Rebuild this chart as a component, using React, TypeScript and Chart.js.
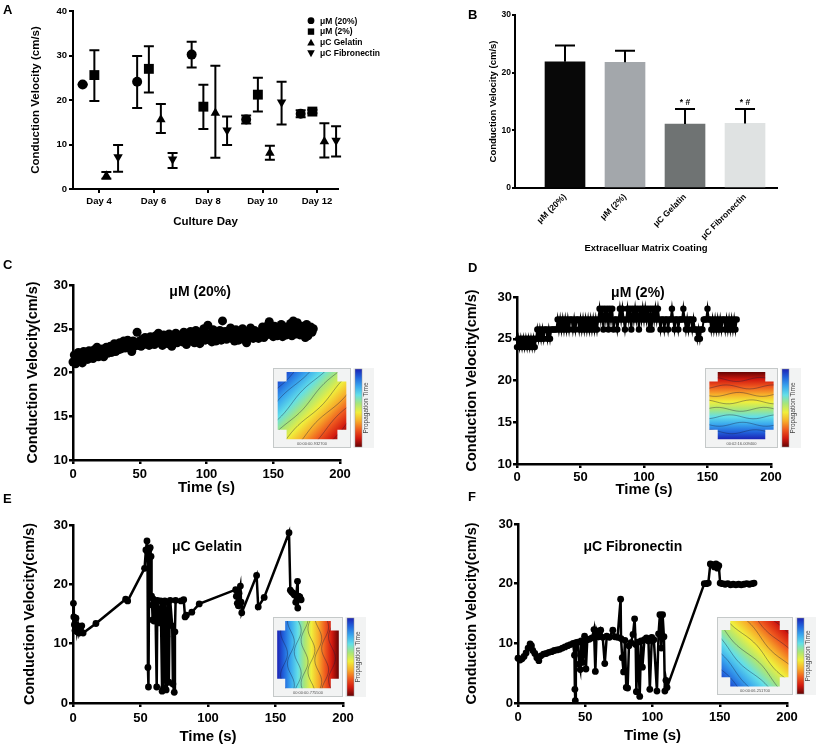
import React, { useEffect, useRef } from 'react';
import { Chart, registerables } from 'chart.js';

Chart.register(...registerables);

const PAGE_W = 817;
const PAGE_H = 747;
const FONT = "'Liberation Sans', Arial, Helvetica, sans-serif";
Chart.defaults.color = '#000';
Chart.defaults.font.family = FONT;

// ---------------- Panel A : conduction velocity per culture day ----------------
const dayTicks = [4, 6, 8, 10, 12];
const dayLabels = ['Day 4', 'Day 6', 'Day 8', 'Day 10', 'Day 12'];
const groupNames = ['μM (20%)', 'μM (2%)', 'μC Gelatin', 'μC Fibronectin'];
const m20Mean = [23.5, 24.1, 30.2, 15.6, 16.9];
const m20Lo = [23.5, 18.2, 27.3, 14.7, 16.1];
const m20Hi = [23.5, 29.9, 33.1, 16.5, 17.7];
const m2Mean = [25.6, 27.0, 18.5, 21.2, 17.4];
const m2Lo = [19.8, 21.7, 13.5, 17.4, 17.0];
const m2Hi = [31.2, 32.1, 23.4, 25.0, 17.8];
const gelMean = [3.0, 15.6, 17.1, 8.1, 10.7];
const gelLo = [2.3, 12.6, 7.0, 6.6, 7.1];
const gelHi = [3.8, 19.1, 27.7, 9.7, 14.8];
const fibMean = [7.2, 6.7, 13.2, 19.5, 10.9];
const fibLo = [3.9, 4.7, 9.9, 14.5, 7.3];
const fibHi = [9.9, 8.1, 16.3, 24.1, 14.1];

// ---------------- Panel B : mean conduction velocity per coating ----------------
const coatingLabels = ['μM (20%)', 'μM (2%)', 'μC Gelatin', 'μC Fibronectin'];
const coatingMean = [21.9, 21.8, 11.1, 11.2];
const coatingErrTop = [24.7, 23.8, 13.7, 13.7];
const coatingMarks = ['', '', '* #', '* #'];

// ---------------- Panel C : μM (20%) trace, one sample per second ----------------
const m20Trace = [
  21.2, 22.0, 21.0, 21.8, 22.3, 21.4, 21.9, 21.1, 22.4, 21.6,
  22.1, 21.5, 22.5, 21.7, 22.2, 21.6, 22.6, 21.9, 22.9, 21.8,
  22.4, 22.0, 22.7, 21.8, 22.5, 22.9, 22.2, 22.6, 23.0, 22.3,
  22.8, 23.3, 22.4, 23.0, 22.6, 23.4, 22.7, 23.1, 23.6, 22.8,
  23.2, 23.7, 22.9, 23.5, 22.4, 23.6, 23.0, 23.3, 24.6, 23.1,
  23.6, 23.0, 23.8, 23.2, 24.0, 23.4, 23.7, 23.1, 24.1, 23.5,
  23.8, 23.2, 24.2, 23.6, 24.5, 23.4, 24.0, 23.1, 24.3, 23.7,
  24.1, 23.3, 24.4, 23.8, 23.0, 24.2, 23.6, 24.5, 23.4, 24.0,
  23.7, 24.3, 23.5, 24.6, 23.8, 23.2, 24.4, 23.9, 24.7, 23.6,
  24.2, 23.4, 24.8, 23.9, 24.3, 23.3, 24.6, 24.0, 25.0, 23.7,
  24.3, 25.4, 23.8, 24.5, 23.5, 24.9, 24.1, 23.6, 24.6, 24.0,
  24.8, 23.7, 25.9, 24.2, 24.7, 23.8, 24.5, 24.0, 25.1, 23.9,
  24.4, 23.6, 24.9, 24.1, 23.7, 24.6, 24.2, 25.0, 23.8, 24.5,
  23.4, 24.7, 24.0, 25.1, 24.3, 23.9, 24.8, 24.1, 24.5, 23.9,
  24.6, 24.2, 25.2, 24.0, 24.7, 24.3, 25.4, 25.8, 24.4, 24.9,
  24.1, 25.3, 24.5, 24.2, 25.0, 24.4, 25.5, 24.1, 24.8, 25.2,
  24.3, 25.0, 24.6, 25.6, 24.2, 25.9, 25.1, 24.4, 25.7, 24.9,
  24.3, 25.3, 24.6, 25.1, 24.0, 25.5, 24.2, 24.8, 25.2, 24.6,
  25.0,
];

// ---------------- Panel D : μM (2%) trace, one sample per second ----------------
const m2Trace = [
  24, 25, 24, 25, 24, 25, 24, 25, 24, 25, 24, 25, 24, 25, 24, 25,
  26.1, 25, 26.1, 25, 26.1, 25, 26.1, 26.1, 25, 26.1, 25, 26.1,
  26.1, 26.1, 26.1, 26.1,
  27.3, 26.1, 27.3, 26.1, 27.3, 26.1, 27.3, 26.1, 27.3, 26.1, 27.3, 27.3, 26.1, 27.3, 26.1, 27.3,
  27.3, 26.1, 27.3, 26.1, 27.3, 26.1, 27.3, 26.1, 27.3, 26.1, 27.3, 26.1, 27.3, 26.1, 27.3, 26.1, 27.3,
  28.6, 27.3, 28.6, 26.1, 28.6, 27.3, 28.6, 26.1, 28.6, 27.3, 28.6, 26.1, 27.3, 27.3, 26.1, 27.3,
  28.6, 27.3, 28.6, 27.3, 26.1, 27.3, 28.6, 27.3, 28.6, 26.1, 28.6, 27.3, 28.6, 27.3, 28.6, 26.1,
  28.6, 27.3, 28.6, 27.3, 28.6, 27.3, 28.6, 26.1, 28.6, 26.1, 28.6, 27.3, 28.6, 27.3, 28.6, 27.3,
  26.1, 27.3, 27.3, 26.1, 27.3, 27.3, 26.1, 27.3, 27.3, 28.6, 27.3, 26.1, 27.3, 27.3, 26.1, 27.3,
  27.3, 27.3, 28.6, 27.3, 26.1, 27.3, 26.1, 27.3, 27.3, 26.1, 27.3,
  26.1, 26.1, 25, 26.1, 25, 26.1, 26.1, 27.3, 27.3, 27.3, 28.6, 27.3, 27.3, 26.1, 27.3, 26.1, 27.3,
  26.1, 27.3, 26.1, 27.3, 26.1, 27.3, 27.3, 26.1, 27.3, 26.1, 27.3, 26.1, 27.3, 26.1, 27.3, 26.1, 27.3,
];
const SAMPLE_SEC = 1;

// ---------------- Panel E : μC Gelatin trace ----------------
const gelTime = [
  0.3, 0.6, 1.0, 1.5, 2.2, 3.0, 3.8, 4.5, 5.5, 6.5,
  7.5, 17, 39, 40.5, 53, 54, 54.8, 55.2, 55.5, 55.9,
  56.5, 57.2, 57.8, 58.2, 58.6, 59, 59.5, 60, 61, 62,
  62.5, 64, 65, 66, 66.5, 67, 67.5, 68, 69, 69.5,
  70, 71, 71.5, 72, 73.5, 74, 75, 75.5, 76, 80,
  82, 83, 84, 88, 93.5, 120.5, 121, 121.7, 122.5, 123,
  124, 124.5, 125, 136, 137.2, 141.6, 160, 161, 162, 163,
  164, 165, 166.3, 166.5, 167, 168, 169,
];
const gelCV = [
  16.8, 14.5, 13.2, 12.2, 14.3, 12.0, 13.0, 11.8, 12.6, 13.0,
  11.8, 13.4, 17.5, 17.2, 22.7, 25.8, 27.3, 25.5, 6.0, 2.7,
  25.9, 26.2, 24.7, 18.0, 16.5, 14.0, 17.5, 13.8, 17.2, 2.7,
  17.3, 13.5, 17.2, 2.0, 17.1, 2.5, 12.5, 17.2, 2.2, 11.2,
  17.0, 3.5, 13.2, 17.3, 13.0, 3.2, 1.8, 12.0, 17.3, 17.2,
  17.4, 14.5, 14.8, 15.3, 16.7, 19.1, 18.0, 16.8, 16.4, 18.5,
  19.7, 17.0, 15.2, 21.5, 16.2, 17.8, 28.7, 19.0, 18.7, 18.5,
  18.2, 17.0, 20.5, 16.0, 18.0, 17.9, 17.4,
];

// ---------------- Panel F : μC Fibronectin trace ----------------
const fibTime = [
  0, 1.5, 3, 4.5, 6, 7.5, 9, 10, 11, 12.5,
  14, 15.5, 17, 19, 21, 23, 25, 27, 29, 31,
  33, 35, 37, 39, 41, 42, 42.3, 42.6, 43, 44.5,
  45.5, 46.3, 47, 48, 49.5, 50.5, 51.5, 53, 55, 56.5,
  57.5, 58.5, 60, 61.5, 63, 64.5, 66, 68, 70.5, 72,
  74, 76.3, 76.6, 77.5, 78.5, 79.5, 80.5, 81.5, 82.5, 84,
  85.5, 86.7, 87.5, 88, 89, 90.5, 91.5, 92.5, 94, 95.5,
  97, 98, 99.5, 101, 103.3, 104.5, 105.5, 106.5, 107.5, 108.5,
  109.2, 110, 110.8, 138.5, 140, 141.5, 143, 144.5, 146, 147.2,
  148.3, 149.3, 150.3, 152, 154, 156, 158, 160, 162, 164,
  166, 168, 170, 172, 174, 175.5,
];
const fibCV = [
  7.5, 7.2, 7.4, 7.8, 8.4, 9.2, 9.9, 9.6, 8.8, 8.3,
  7.6, 7.1, 7.9, 8.2, 8.3, 8.5, 8.6, 8.8, 8.9, 9.0,
  9.2, 9.4, 9.6, 9.8, 10.0, 8.0, 2.3, 0.4, 10.1, 10.2,
  6.5, 5.6, 10.4, 6.8, 11.2, 5.7, 10.6, 10.7, 10.9, 12.3,
  5.3, 12.1, 11.1, 12.2, 11.0, 6.6, 11.2, 11.0, 12.2, 11.1,
  11.0, 17.4, 10.8, 7.6, 5.2, 10.5, 2.6, 2.5, 9.6, 10.1,
  11.5, 14.1, 9.8, 1.9, 10.2, 1.1, 10.4, 6.0, 10.6, 10.9,
  10.4, 2.3, 11.0, 10.6, 2.0, 11.6, 14.8, 9.2, 14.8, 11.1,
  2.0, 3.8, 2.6, 20.0, 20.0, 20.1, 23.3, 23.2, 22.8, 23.3,
  22.6, 23.0, 20.1, 20.0, 19.9, 20.0, 19.8, 19.9, 19.8, 19.9,
  19.8, 19.9, 20.0, 19.9, 20.0, 20.1,
];

// ---------------- styling ----------------
const groupOffset = [-0.6, -0.17, 0.27, 0.7];
const markerStyle = ['circle', 'rect', 'triangle', 'triangle'];
const markerRotation = [0, 0, 0, 180];
const markerRadius = [5, 7, 5.5, 5.5];
const coatingColors = ['#080808', '#a3a7ab', '#6f7373', '#dfe2e2'];
const CMAP = ['#1b23b5', '#2266dd', '#3aa8ee', '#63dfe8', '#a8e67a', '#f0ef3c', '#f7ae2a', '#ef5a1f', '#d2190f', '#650404'];

type Frame = { L: number; T: number; R: number; B: number; yTitleX: number; ySize: number; xTitleY: number; xSize: number };

function frame(f: Frame) {
  const yW = f.L - f.yTitleX + (f.ySize * 1.2) / 2;
  const xH = f.xTitleY - f.B + (f.xSize * 1.2) / 2;
  const zero = (s: any) => { s.paddingTop = 0; s.paddingBottom = 0; s.paddingLeft = 0; s.paddingRight = 0; };
  return {
    padding: { left: f.L - yW, top: f.T, right: PAGE_W - f.R, bottom: PAGE_H - f.B - xH },
    yFit: (s: any) => { s.width = yW; zero(s); },
    xFit: (s: any) => { s.height = xH; zero(s); },
  };
}

function axis(o: any) {
  const ax: any = {
    type: 'linear',
    min: o.min,
    max: o.max,
    offset: false,
    afterFit: o.fit,
    border: { display: true, color: '#000', width: o.border },
    grid: {
      display: o.tickLen > 0, drawOnChartArea: false, drawTicks: o.tickLen > 0, tickLength: o.tickLen,
      color: '#000', lineWidth: o.border, tickColor: '#000', tickWidth: o.border, offset: false,
    },
    ticks: {
      color: '#000', font: { family: FONT, size: o.tickSize, weight: 'bold' }, padding: o.pad,
      autoSkip: false, maxRotation: o.rot ?? 0, minRotation: o.rot ?? 0,
    },
    title: { display: true, text: o.title, color: '#000', font: { family: FONT, size: o.titleSize, weight: 'bold' }, padding: 0 },
  };
  if (o.step) ax.ticks.stepSize = o.step;
  if (o.values) {
    ax.afterBuildTicks = (s: any) => { s.ticks = o.values.map((v: number) => ({ value: v })); };
    ax.ticks.callback = (v: number) => { const k = o.values.indexOf(v); return k >= 0 ? o.labels[k] : ''; };
  }
  return ax;
}

function baseOptions(padding: any) {
  return {
    responsive: false,
    animation: false,
    devicePixelRatio: 1,
    events: [],
    layout: { autoPadding: false, padding },
    plugins: { legend: { display: false }, tooltip: { enabled: false }, title: { display: false } },
  };
}

function drawMarker(ctx: CanvasRenderingContext2D, kind: number, x: number, y: number, r: number) {
  ctx.beginPath();
  if (kind === 0) ctx.arc(x, y, r, 0, Math.PI * 2);
  else if (kind === 1) ctx.rect(x - r, y - r, 2 * r, 2 * r);
  else if (kind === 2) { ctx.moveTo(x, y - r); ctx.lineTo(x + r, y + r * 0.8); ctx.lineTo(x - r, y + r * 0.8); ctx.closePath(); }
  else { ctx.moveTo(x, y + r); ctx.lineTo(x + r, y - r * 0.8); ctx.lineTo(x - r, y - r * 0.8); ctx.closePath(); }
  ctx.fill();
}

function drawInset(ctx: CanvasRenderingContext2D, x: number, y: number, w: number, h: number, dir: number[], stamp: string, wavy: number) {
  ctx.save();
  ctx.fillStyle = '#f2f3f3';
  ctx.fillRect(x, y, w, h);
  ctx.strokeStyle = '#c5c9c9';
  ctx.lineWidth = 1;
  ctx.strokeRect(x + 0.5, y + 0.5, w - 1, h - 1);
  const mx = x + w * 0.06, my = y + h * 0.05, mw = w * 0.88, mh = h * 0.84;
  const nx = mw * 0.13, ny = mh * 0.14;
  ctx.beginPath();
  ctx.moveTo(mx + nx, my);
  ctx.lineTo(mx + mw - nx, my);
  ctx.lineTo(mx + mw - nx, my + ny);
  ctx.lineTo(mx + mw, my + ny);
  ctx.lineTo(mx + mw, my + mh - ny);
  ctx.lineTo(mx + mw - nx, my + mh - ny);
  ctx.lineTo(mx + mw - nx, my + mh);
  ctx.lineTo(mx + nx, my + mh);
  ctx.lineTo(mx + nx, my + mh - ny);
  ctx.lineTo(mx, my + mh - ny);
  ctx.lineTo(mx, my + ny);
  ctx.lineTo(mx + nx, my + ny);
  ctx.closePath();
  const x0 = mx + dir[0] * mw, y0 = my + dir[1] * mh, x1 = mx + dir[2] * mw, y1 = my + dir[3] * mh;
  const g = ctx.createLinearGradient(x0, y0, x1, y1);
  CMAP.forEach((c, i) => g.addColorStop(i / (CMAP.length - 1), c));
  ctx.fillStyle = g;
  ctx.fill();
  ctx.clip();
  const dx = x1 - x0, dy = y1 - y0, len = Math.hypot(dx, dy);
  const ux = dx / len, uy = dy / len, px = -uy, py = ux;
  ctx.strokeStyle = 'rgba(25,25,60,0.55)';
  ctx.lineWidth = 0.7;
  for (let k = 1; k < 9; k++) {
    const t = k / 9, cx = x0 + dx * t, cy = y0 + dy * t;
    ctx.beginPath();
    for (let j = 0; j <= 40; j++) {
      const s = -1 + j / 20;
      const wob = Math.sin(s * 9 + k * 1.7) * wavy;
      const qx = cx + px * s * len + ux * wob, qy = cy + py * s * len + uy * wob;
      if (j === 0) ctx.moveTo(qx, qy); else ctx.lineTo(qx, qy);
    }
    ctx.stroke();
  }
  ctx.restore();
  ctx.save();
  ctx.fillStyle = '#555';
  ctx.font = `4px ${FONT}`;
  ctx.textAlign = 'center';
  ctx.textBaseline = 'middle';
  ctx.fillText(stamp, x + w / 2, y + h - 4);
  const bx = x + w + 4, bw = 7, by = y + 1, bh = h - 2;
  ctx.fillStyle = '#f2f3f3';
  ctx.fillRect(bx - 2, by - 1, bw + 14, bh + 2);
  const cg = ctx.createLinearGradient(0, by, 0, by + bh);
  CMAP.forEach((c, i) => cg.addColorStop(i / (CMAP.length - 1), c));
  ctx.fillStyle = cg;
  ctx.fillRect(bx, by, bw, bh);
  ctx.strokeStyle = '#999';
  ctx.lineWidth = 0.5;
  ctx.strokeRect(bx, by, bw, bh);
  ctx.translate(bx + bw + 4.5, by + bh / 2);
  ctx.rotate(-Math.PI / 2);
  ctx.fillStyle = '#444';
  ctx.font = `6.5px ${FONT}`;
  ctx.fillText('Propagation Time', 0, 0);
  ctx.restore();
}

// ---------------- chart builders ----------------
function buildA() {
  const fr = frame({ L: 73, T: 11, R: 338, B: 189, yTitleX: 36, ySize: 11.5, xTitleY: 222, xSize: 11.5 });
  const groups = [
    { mean: m20Mean, lo: m20Lo, hi: m20Hi },
    { mean: m2Mean, lo: m2Lo, hi: m2Hi },
    { mean: gelMean, lo: gelLo, hi: gelHi },
    { mean: fibMean, lo: fibLo, hi: fibHi },
  ];
  const datasets = groups.map((g, gi) => ({
    label: groupNames[gi],
    data: dayTicks.map((d, i) => ({ x: d + groupOffset[gi], y: g.mean[i] })),
    errLo: g.lo,
    errHi: g.hi,
    showLine: false,
    clip: false,
    pointStyle: markerStyle[gi],
    pointRotation: markerRotation[gi],
    pointRadius: markerRadius[gi],
    pointHoverRadius: markerRadius[gi],
    pointBackgroundColor: '#000',
    pointBorderColor: '#000',
    pointBorderWidth: 0,
  }));
  const errPlugin = {
    id: 'errA',
    beforeDatasetsDraw(chart: any) {
      const ctx = chart.ctx, ys = chart.scales.y;
      ctx.save();
      ctx.strokeStyle = '#000';
      ctx.lineWidth = 2;
      chart.data.datasets.forEach((ds: any, di: number) => {
        chart.getDatasetMeta(di).data.forEach((pt: any, i: number) => {
          const yl = ys.getPixelForValue(ds.errLo[i]), yh = ys.getPixelForValue(ds.errHi[i]);
          ctx.beginPath();
          ctx.moveTo(pt.x, yl); ctx.lineTo(pt.x, yh);
          ctx.moveTo(pt.x - 5, yh); ctx.lineTo(pt.x + 5, yh);
          ctx.moveTo(pt.x - 5, yl); ctx.lineTo(pt.x + 5, yl);
          ctx.stroke();
        });
      });
      ctx.restore();
    },
    afterDraw(chart: any) {
      const ctx = chart.ctx, ca = chart.chartArea;
      ctx.save();
      ctx.fillStyle = '#000';
      ctx.font = `bold 8.5px ${FONT}`;
      ctx.textBaseline = 'middle';
      const sizes = [3.4, 3.2, 3.8, 3.8];
      groupNames.forEach((name, i) => {
        const lx = ca.right - 27, ly = ca.top + 9.7 + i * 10.9;
        drawMarker(ctx, i, lx, ly, sizes[i]);
        ctx.fillText(name, lx + 9, ly + 0.5);
      });
      ctx.restore();
    },
  };
  return {
    type: 'scatter',
    data: { datasets },
    options: {
      ...baseOptions(fr.padding),
      scales: {
        x: axis({ min: 3.046, max: 12.77, values: dayTicks, labels: dayLabels, tickSize: 9.5, tickLen: 4, pad: 3, border: 2, title: 'Culture Day', titleSize: 11.5, fit: fr.xFit }),
        y: axis({ min: 0, max: 40, step: 10, tickSize: 9.5, tickLen: 4, pad: 2, border: 2, title: 'Conduction Velocity (cm/s)', titleSize: 11.5, fit: fr.yFit }),
      },
    },
    plugins: [errPlugin],
  };
}

function buildB() {
  const fr = frame({ L: 515, T: 15, R: 777, B: 188, yTitleX: 493, ySize: 9.5, xTitleY: 248, xSize: 9.5 });
  const idx = coatingLabels.map((_, i) => i + 1);
  const errPlugin = {
    id: 'errB',
    afterDatasetsDraw(chart: any) {
      const ctx = chart.ctx, ys = chart.scales.y;
      const meta = chart.getDatasetMeta(0);
      ctx.save();
      ctx.strokeStyle = '#000';
      ctx.fillStyle = '#000';
      ctx.lineWidth = 2;
      meta.data.forEach((bar: any, i: number) => {
        const top = ys.getPixelForValue(coatingMean[i]);
        const hi = ys.getPixelForValue(coatingErrTop[i]);
        ctx.beginPath();
        ctx.moveTo(bar.x, top); ctx.lineTo(bar.x, hi);
        ctx.moveTo(bar.x - 10, hi); ctx.lineTo(bar.x + 10, hi);
        ctx.stroke();
        if (coatingMarks[i]) {
          ctx.font = `bold 8.5px ${FONT}`;
          ctx.textAlign = 'center';
          ctx.textBaseline = 'bottom';
          ctx.fillText(coatingMarks[i], bar.x, hi - 2);
        }
      });
      ctx.restore();
    },
  };
  return {
    type: 'bar',
    data: {
      datasets: [{
        data: coatingMean.map((v, i) => ({ x: idx[i], y: v })),
        backgroundColor: coatingColors,
        borderWidth: 0,
        barThickness: 40,
      }],
    },
    options: {
      ...baseOptions(fr.padding),
      scales: {
        x: axis({ min: 0.1667, max: 4.533, values: idx, labels: coatingLabels, tickSize: 8.5, tickLen: 0, pad: 4, border: 2, rot: 45, title: 'Extracelluar Matrix Coating', titleSize: 9.5, fit: fr.xFit }),
        y: axis({ min: 0, max: 30, step: 10, tickSize: 8.5, tickLen: 3, pad: 1, border: 2, title: 'Conduction Velocity (cm/s)', titleSize: 9.5, fit: fr.yFit }),
      },
    },
    plugins: [errPlugin],
  };
}

function buildTrace(cfg: any) {
  const fr = frame(cfg.frame);
  const extras = {
    id: 'traceExtras',
    afterDatasetsDraw(chart: any) {
      const ctx = chart.ctx, ca = chart.chartArea;
      ctx.save();
      ctx.fillStyle = '#000';
      ctx.font = `bold 14px ${FONT}`;
      ctx.textAlign = 'center';
      ctx.textBaseline = 'middle';
      ctx.fillText(cfg.title, ca.left + cfg.tx * (ca.right - ca.left), ca.top + cfg.ty * (ca.bottom - ca.top));
      ctx.restore();
      const ins = cfg.inset;
      drawInset(ctx, ca.left + ins.dx, ca.top + ins.dy, ins.w, ins.h, ins.dir, ins.stamp, ins.wavy);
    },
  };
  return {
    type: 'scatter',
    data: {
      datasets: [{
        data: cfg.points,
        showLine: cfg.showLine,
        borderColor: '#000',
        borderWidth: cfg.lineWidth,
        tension: 0,
        clip: false,
        pointRadius: cfg.radius,
        pointHoverRadius: cfg.radius,
        pointBackgroundColor: '#000',
        pointBorderColor: '#000',
        pointBorderWidth: 0,
      }],
    },
    options: {
      ...baseOptions(fr.padding),
      scales: {
        x: axis({ min: 0, max: 200, step: 50, tickSize: 13, tickLen: 4, pad: cfg.xPad, border: 2.5, title: 'Time (s)', titleSize: 15, fit: fr.xFit }),
        y: axis({ min: cfg.yMin, max: 30, step: cfg.yStep, tickSize: 13, tickLen: 4, pad: 1, border: 2.5, title: 'Conduction Velocity(cm/s)', titleSize: 14.5, fit: fr.yFit }),
      },
    },
    plugins: [extras],
  };
}

const builders = [
  buildA,
  buildB,
  () => buildTrace({
    frame: { L: 73, T: 285, R: 340, B: 460, yTitleX: 33, ySize: 14.5, xTitleY: 488, xSize: 15 },
    points: m20Trace.map((v, i) => ({ x: i * SAMPLE_SEC, y: v })),
    showLine: false, lineWidth: 2, radius: 4.5, yMin: 10, yStep: 5, xPad: 3,
    title: 'μM (20%)', tx: 0.476, ty: 0.04,
    inset: { dx: 200, dy: 83, w: 78, h: 80, dir: [0, 0, 1, 1], stamp: '00:00:00.932700', wavy: 1.5 },
  }),
  () => buildTrace({
    frame: { L: 517, T: 297, R: 771, B: 464, yTitleX: 472, ySize: 14.5, xTitleY: 490, xSize: 15 },
    points: m2Trace.map((v, i) => ({ x: i * SAMPLE_SEC, y: v })),
    showLine: true, lineWidth: 2, radius: 3.2, yMin: 10, yStep: 5, xPad: 2,
    title: 'μM (2%)', tx: 0.476, ty: -0.024,
    inset: { dx: 188, dy: 71, w: 73, h: 80, dir: [0, 1, 0, 0], stamp: '00:02:16.009400', wavy: 2 },
  }),
  () => buildTrace({
    frame: { L: 73, T: 525, R: 343, B: 703, yTitleX: 30, ySize: 14.5, xTitleY: 737, xSize: 15 },
    points: gelTime.map((t, i) => ({ x: t, y: gelCV[i] })),
    showLine: true, lineWidth: 2.5, radius: 3.4, yMin: 0, yStep: 10, xPad: 4,
    title: 'μC Gelatin', tx: 0.496, ty: 0.124,
    inset: { dx: 200, dy: 92, w: 70, h: 80, dir: [0, 0.5, 1, 0.5], stamp: '00:00:00.775500', wavy: 3.5 },
  }),
  () => buildTrace({
    frame: { L: 518, T: 524, R: 787, B: 703, yTitleX: 472, ySize: 14.5, xTitleY: 736, xSize: 15 },
    points: fibTime.map((t, i) => ({ x: t, y: fibCV[i] })),
    showLine: true, lineWidth: 2.5, radius: 3.4, yMin: 0, yStep: 10, xPad: 3,
    title: 'μC Fibronectin', tx: 0.427, ty: 0.128,
    inset: { dx: 199, dy: 93, w: 76, h: 78, dir: [0, 1, 1, 0], stamp: '00:00:06.251700', wavy: 2 },
  }),
];

const panelLetters = [
  { t: 'A', x: 3, y: 3.4 },
  { t: 'B', x: 468, y: 8.4 },
  { t: 'C', x: 3, y: 258.4 },
  { t: 'D', x: 468, y: 261.4 },
  { t: 'E', x: 3, y: 492.4 },
  { t: 'F', x: 468, y: 490.4 },
];

function ChartLayer({ build }: { build: () => any }) {
  const ref = useRef<HTMLCanvasElement>(null);
  useEffect(() => {
    const chart = new Chart(ref.current as HTMLCanvasElement, build() as any);
    return () => chart.destroy();
  }, [build]);
  return (
    <canvas
      ref={ref}
      width={PAGE_W}
      height={PAGE_H}
      style={{ position: 'absolute', left: 0, top: 0, width: PAGE_W, height: PAGE_H, pointerEvents: 'none' }}
    />
  );
}

export default function App() {
  return (
    <div style={{ position: 'fixed', left: 0, top: 0, width: PAGE_W, height: PAGE_H, background: '#fff', overflow: 'hidden' }}>
      {builders.map((b, i) => <ChartLayer key={i} build={b} />)}
      {panelLetters.map((p) => (
        <div
          key={p.t}
          style={{ position: 'absolute', left: p.x, top: p.y, fontFamily: FONT, fontWeight: 'bold', fontSize: 13, lineHeight: '13px', color: '#000' }}
        >
          {p.t}
        </div>
      ))}
    </div>
  );
}
